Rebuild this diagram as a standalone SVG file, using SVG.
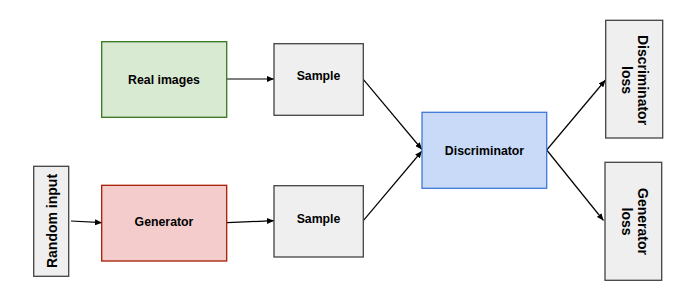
<svg xmlns="http://www.w3.org/2000/svg" width="700" height="303" viewBox="0 0 700 303">
<defs>
<marker id="ah" markerWidth="7" markerHeight="6" refX="7" refY="3" orient="auto" markerUnits="userSpaceOnUse">
<path d="M0,0 L7,3 L0,6 Z" fill="#000"/>
</marker>
<style>
text{font-family:"Liberation Sans",Arial,sans-serif;font-weight:bold;fill:#000;text-anchor:middle;dominant-baseline:central}
.t12{font-size:12.3px}
.t14{font-size:14px}
.gray{fill:#efefef;stroke:#434343;stroke-width:1.3}
.green{fill:#d9ead3;stroke:#38761d;stroke-width:1.3}
.red{fill:#f4cccc;stroke:#a61c00;stroke-width:1.3}
.blue{fill:#c9daf8;stroke:#3c78d8;stroke-width:1.3}
.edge{stroke:#000;stroke-width:1.2;fill:none;marker-end:url(#ah)}
</style>
</defs>
<rect width="700" height="303" fill="#fff"/>
<g id="connectors">
<line class="edge" x1="227" y1="79" x2="274" y2="79"/>
<line class="edge" x1="71" y1="221" x2="102" y2="222.7"/>
<line class="edge" x1="227" y1="222.7" x2="274" y2="220.7"/>
<line class="edge" x1="363.3" y1="79.3" x2="422" y2="149.5"/>
<line class="edge" x1="363.3" y1="220.7" x2="422" y2="151"/>
<line class="edge" x1="546.7" y1="150" x2="605.5" y2="80"/>
<line class="edge" x1="546.7" y1="150" x2="603.5" y2="220.5"/>
</g>
<g id="real-images">
<rect class="green" x="101.7" y="41.7" width="125" height="75.6"/>
<text class="t12" x="164" y="80">Real images</text>
</g>
<g id="sample-top">
<rect class="gray" x="274" y="43.7" width="89.3" height="71.6"/>
<text class="t12" x="318.5" y="75.5">Sample</text>
</g>
<g id="random-input">
<rect class="gray" x="33.7" y="166.3" width="35" height="110"/>
<text class="t14" transform="translate(51.5,221) rotate(-90)">Random input</text>
</g>
<g id="generator">
<rect class="red" x="101.7" y="185.3" width="125" height="75.7"/>
<text class="t12" x="164" y="221.5">Generator</text>
</g>
<g id="sample-bottom">
<rect class="gray" x="274" y="185.7" width="89.3" height="71.3"/>
<text class="t12" x="318.5" y="219">Sample</text>
</g>
<g id="discriminator">
<rect class="blue" x="422" y="112.3" width="124.7" height="76"/>
<text class="t12" x="484.5" y="150.5">Discriminator</text>
</g>
<g id="discriminator-loss">
<rect class="gray" x="605.7" y="20.3" width="57" height="117.7"/>
<text class="t14" transform="translate(636,80) rotate(90)"><tspan x="0" y="-7">Discriminator</tspan><tspan x="0" y="9">loss</tspan></text>
</g>
<g id="generator-loss">
<rect class="gray" x="605" y="162.3" width="56.7" height="118"/>
<text class="t14" transform="translate(636,221.5) rotate(90)"><tspan x="0" y="-7">Generator</tspan><tspan x="0" y="9">loss</tspan></text>
</g>
</svg>
